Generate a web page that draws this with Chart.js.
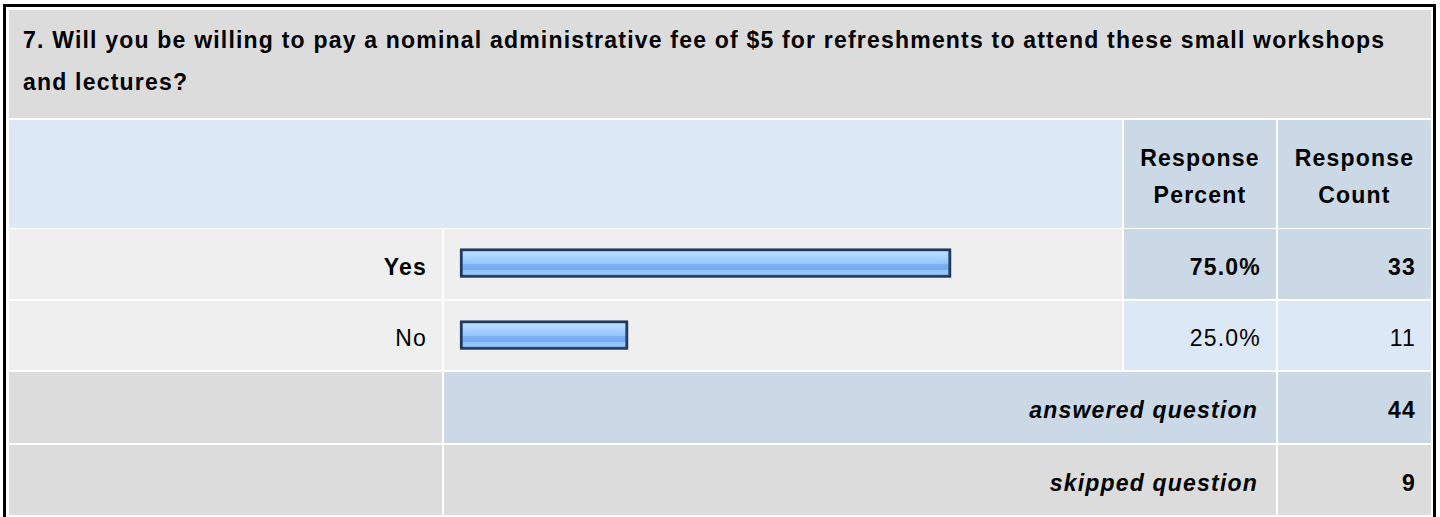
<!DOCTYPE html>
<html>
<head>
<meta charset="utf-8">
<script src="https://cdn.jsdelivr.net/npm/chart.js@4.4.1/dist/chart.umd.min.js"></script>
<style>
    html, body { margin: 0; padding: 0; background: #fff; overflow: hidden; }
    body { width: 1440px; height: 517px; position: relative; font-family: "Liberation Sans", Arial, sans-serif; color: #000; }
    .frame { position: absolute; left: 3px; top: 4px; width: 1427px; height: 600px; border: 3px solid #000; }
    .cell { position: absolute; box-sizing: border-box; font-size: 23px; letter-spacing: 1.2px; display: flex; align-items: center; }
    .cell span { position: relative; top: 3px; }
    .right { justify-content: flex-end; padding-right: 15px; }
    .bold { font-weight: bold; }
    .title { font-weight: bold; line-height: 42px; padding: 9px 14px 0 14px; align-items: flex-start; display: block; }
    .head { font-weight: bold; line-height: 37px; justify-content: center; text-align: center; }
    .gray { background: #dcdcdc; }
    .light { background: #efefef; }
    .blue1 { background: #dce8f5; }
    .blue2 { background: #cbd8e6; }
    #barBox { position: absolute; left: 444px; top: 227px; width: 678px; height: 144px; }
</style>
</head>
<body>
<div class="frame"></div>
<div id="table"></div>
<div id="barBox"><canvas id="bars"></canvas></div>
<script>
// Survey question data
const questionTitle = '7. Will you be willing to pay a nominal administrative fee of $5 for refreshments to attend these small workshops and lectures?';
const headerLabels = ['Response Percent', 'Response Count'];
const categories = ['Yes', 'No'];
const percents = [75.0, 25.0];
const counts = [33, 11];
const answeredCount = 44;
const skippedCount = 9;

// column edges (x) and row edges (y) of the table
const colX = [9, 444, 1124, 1278, 1431];
const rowY = [[10, 118], [120, 228], [229, 299], [301, 370], [372, 443], [445, 515]];

const table = document.getElementById('table');

function addCell(x1, x2, row, cls, html) {
    const d = document.createElement('div');
    d.className = 'cell ' + cls;
    d.style.left = x1 + 'px';
    d.style.width = (x2 - x1) + 'px';
    d.style.top = rowY[row][0] + 'px';
    d.style.height = (rowY[row][1] - rowY[row][0]) + 'px';
    if (html !== undefined) d.innerHTML = html;
    table.appendChild(d);
    return d;
}

// title
addCell(colX[0], colX[4], 0, 'gray title', questionTitle);

// header row
addCell(colX[0], colX[2] - 2, 1, 'blue1');
addCell(colX[2], colX[3] - 2, 1, 'blue2 head', '<span>' + headerLabels[0].replace(' ', '<br>') + '</span>');
addCell(colX[3], colX[4], 1, 'blue2 head', '<span>' + headerLabels[1].replace(' ', '<br>') + '</span>');

// answer rows, the biggest answer is in bold
const maxCount = Math.max(...counts);
categories.forEach((cat, i) => {
    const row = 2 + i;
    const isMax = counts[i] === maxCount;
    const b = isMax ? ' bold' : '';
    const tone = isMax ? 'blue2' : 'blue1';
    addCell(colX[0], colX[1] - 2, row, 'light right' + b, '<span>' + cat + '</span>');
    addCell(colX[1], colX[2] - 2, row, 'light');
    addCell(colX[2], colX[3] - 2, row, tone + ' right' + b, '<span>' + percents[i].toFixed(1) + '%</span>');
    addCell(colX[3], colX[4], row, tone + ' right' + b, '<span>' + counts[i] + '</span>');
});

// answered / skipped
addCell(colX[0], colX[1] - 2, 4, 'gray');
addCell(colX[1], colX[3] - 2, 4, 'blue2 right bold', '<span><i>answered question</i></span>').style.paddingRight = '18px';
addCell(colX[3], colX[4], 4, 'blue2 right bold', '<span>' + answeredCount + '</span>');
addCell(colX[0], colX[1] - 2, 5, 'gray');
addCell(colX[1], colX[3] - 2, 5, 'gray right bold', '<span><i>skipped question</i></span>').style.paddingRight = '18px';
addCell(colX[3], colX[4], 5, 'gray right bold', '<span>' + skippedCount + '</span>');

// bar fill, a banded blue like the old survey bars
function barFill(context) {
    const chart = context.chart;
    const yScale = chart.scales.y;
    if (!yScale) return '#93c5fc';
    const yc = yScale.getPixelForValue(context.dataIndex);
    if (!isFinite(yc)) return '#93c5fc';
    const h = 29;
    const g = chart.ctx.createLinearGradient(0, yc - h / 2, 0, yc + h / 2);
    g.addColorStop(0.00, '#d4e9ff');
    g.addColorStop(0.18, '#b4d9ff');
    g.addColorStop(0.36, '#a2cfff');
    g.addColorStop(0.52, '#93c5fc');
    g.addColorStop(0.54, '#7bb3f3');
    g.addColorStop(0.72, '#71a9ee');
    g.addColorStop(0.74, '#8cc1f9');
    g.addColorStop(1.00, '#a0ceff');
    return g;
}

// small drop shadow under the bars
const barShadow = {
    id: 'barShadow',
    beforeDatasetsDraw(chart) {
        const ctx = chart.ctx;
        ctx.save();
        ctx.shadowColor = 'rgba(70, 85, 110, 0.55)';
        ctx.shadowOffsetX = 1;
        ctx.shadowOffsetY = 1;
        ctx.shadowBlur = 0;
    },
    afterDatasetsDraw(chart) {
        chart.ctx.restore();
    }
};

new Chart(document.getElementById('bars'), {
    type: 'bar',
    data: {
        labels: categories,
        datasets: [{
            data: percents,
            base: -1,
            backgroundColor: barFill,
            borderColor: '#1f3a60',
            borderWidth: 3,
            borderSkipped: false,
            barThickness: 29
        }]
    },
    options: {
        indexAxis: 'y',
        responsive: true,
        maintainAspectRatio: false,
        animation: false,
        layout: { padding: 0 },
        plugins: {
            legend: { display: false },
            tooltip: { enabled: false }
        },
        scales: {
            x: { display: false, min: -3.477, max: 101.47 },
            y: { display: false, offset: true }
        }
    },
    plugins: [barShadow]
});
</script>
</body>
</html>
